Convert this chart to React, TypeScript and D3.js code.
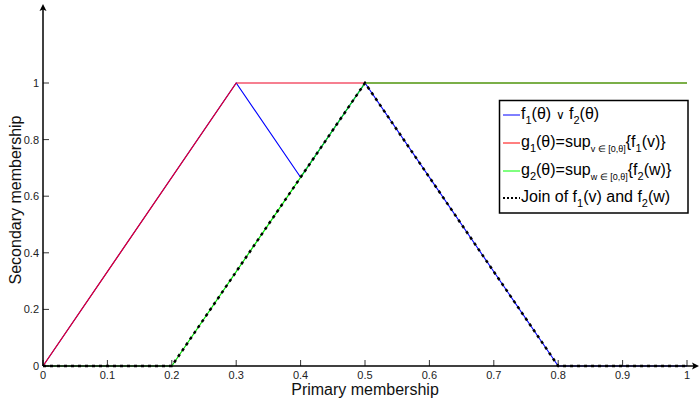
import React from "react";
import * as d3 from "d3";

// Membership functions as breakpoint lists (primary membership, secondary membership)
const joinX = [0, 0.3, 0.4, 0.5, 0.8, 1];
const joinY = [0, 1, 2 / 3, 1, 0, 0];
const g1X = [0, 0.3, 1];
const g1Y = [0, 1, 1];
const g2X = [0, 0.2, 0.5, 1];
const g2Y = [0, 0, 1, 1];
const meetX = [0, 0.2, 0.5, 0.8, 1];
const meetY = [0, 0, 1, 0, 0];

const xTicks = [0, 0.1, 0.2, 0.3, 0.4, 0.5, 0.6, 0.7, 0.8, 0.9, 1];
const yTicks = [0, 0.2, 0.4, 0.6, 0.8, 1];

const W = 700;
const H = 402;
const FONT = "'Liberation Sans', Arial, Helvetica, sans-serif";

const x = d3.scaleLinear().domain([0, 1]).range([43, 687]);
const y = d3.scaleLinear().domain([0, 1]).range([366, 83]);

const line = d3
  .line<[number, number]>()
  .x((d) => x(d[0]))
  .y((d) => y(d[1]));

const zip = (xs: number[], ys: number[]) =>
  xs.map((v, i) => [v, ys[i]] as [number, number]);

function Sub({ children, size = 11 }: { children: React.ReactNode; size?: number }) {
  return (
    <tspan fontSize={size} dy={5}>
      {children}
    </tspan>
  );
}
function Up({ children }: { children: React.ReactNode }) {
  return <tspan dy={-5}>{children}</tspan>;
}

export default function App() {
  const lx = 503;
  const rows = [115, 143, 171, 198];
  return (
    <svg
      width={W}
      height={H}
      style={{ position: "absolute", left: 0, top: 0, background: "#fff" }}
      fontFamily={FONT}
    >
      <rect width={W} height={H} fill="#fff" />

      {/* series */}
      <path d={line(zip(joinX, joinY)) || ""} fill="none" stroke="#0000ff" strokeWidth={1.1} />
      <path d={line(zip(g1X, g1Y)) || ""} fill="none" stroke="#ee0022" strokeWidth={1.2} />
      <path d={line(zip(g2X, g2Y)) || ""} fill="none" stroke="#00e000" strokeWidth={1.2} />
      <path
        d={line(zip(meetX, meetY)) || ""}
        fill="none"
        stroke="#000"
        strokeWidth={2.5}
        strokeDasharray="3,4"
      />

      {/* axes */}
      <line x1={43} y1={366} x2={696} y2={366} stroke="#000" strokeWidth={1.5} />
      <path d="M699,366 L692,362.5 L693.5,366 L692,369.5 Z" fill="#000" />
      <line x1={43} y1={366} x2={43} y2={8} stroke="#000" strokeWidth={1.5} />
      <path d="M43,4 L39.5,11 L43,9.5 L46.5,11 Z" fill="#000" />

      {xTicks.map((t) => (
        <g key={"x" + t}>
          <line x1={x(t)} x2={x(t)} y1={366} y2={360} stroke="#000" strokeWidth={0.8} />
          <text x={x(t)} y={379} textAnchor="middle" fontSize={11} fill="#222">
            {d3.format("~g")(t)}
          </text>
        </g>
      ))}
      {yTicks.map((t) => (
        <g key={"y" + t}>
          <line x1={43} x2={49} y1={y(t)} y2={y(t)} stroke="#000" strokeWidth={0.8} />
          <text x={39} y={y(t) + 4} textAnchor="end" fontSize={11} fill="#222">
            {d3.format("~g")(t)}
          </text>
        </g>
      ))}

      <text x={365} y={395} textAnchor="middle" fontSize={16} fill="#111">
        Primary membership
      </text>
      <text
        transform="translate(21,200) rotate(-90)"
        textAnchor="middle"
        fontSize={16}
        fill="#111"
      >
        Secondary membership
      </text>

      {/* legend */}
      <rect x={499.5} y={100.5} width={188.5} height={112.5} fill="#fff" stroke="#000" strokeWidth={1.5} />
      <line x1={lx} x2={520} y1={rows[0]} y2={rows[0]} stroke="#0000ff" strokeWidth={1} />
      <line x1={lx} x2={520} y1={rows[1]} y2={rows[1]} stroke="#ff0000" strokeWidth={1} />
      <line x1={lx} x2={520} y1={rows[2]} y2={rows[2]} stroke="#00ff00" strokeWidth={1} />
      <line
        x1={lx}
        x2={520}
        y1={rows[3]}
        y2={rows[3]}
        stroke="#000"
        strokeWidth={2}
        strokeDasharray="2,2"
      />
      <g fontSize={16} fill="#000">
        <text x={521} y={rows[0] + 4}>
          f<Sub>1</Sub>
          <Up>(θ) </Up>
          <tspan fontSize={12} fontWeight={300}>∨</tspan>
          <tspan> f</tspan>
          <Sub>2</Sub>
          <Up>(θ)</Up>
        </text>
        <text x={521} y={rows[1] + 4}>
          g<Sub>1</Sub>
          <Up>(θ)=sup</Up>
          <Sub size={9}>v ∈ [0,θ]</Sub>
          <Up>{"{f"}</Up>
          <Sub>1</Sub>
          <Up>{"(v)}"}</Up>
        </text>
        <text x={521} y={rows[2] + 4}>
          g<Sub>2</Sub>
          <Up>(θ)=sup</Up>
          <Sub size={9}>w ∈ [0,θ]</Sub>
          <Up>{"{f"}</Up>
          <Sub>2</Sub>
          <Up>{"(w)}"}</Up>
        </text>
        <text x={521} y={rows[3] + 4}>
          Join of f<Sub>1</Sub>
          <Up>(v) and f</Up>
          <Sub>2</Sub>
          <Up>(w)</Up>
        </text>
      </g>
    </svg>
  );
}
